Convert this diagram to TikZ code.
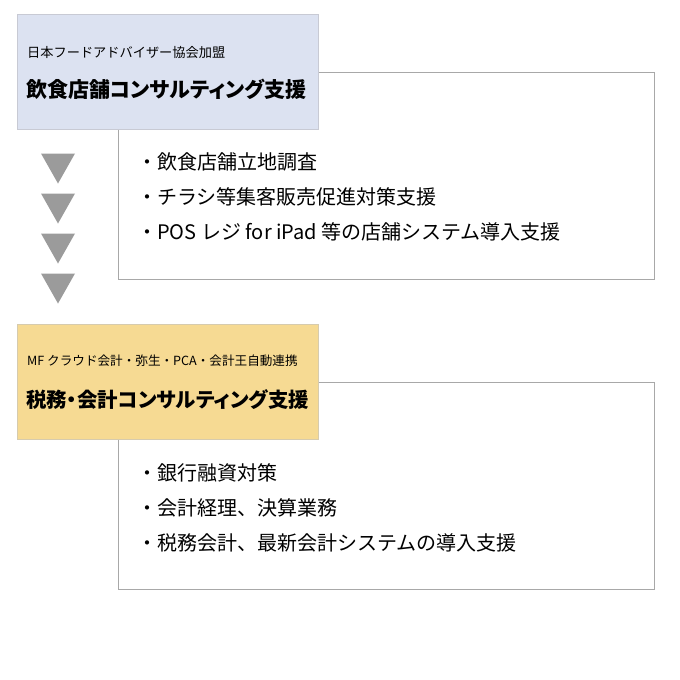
\documentclass[tikz,border=0pt]{standalone}
\usepackage{fontspec}
\setmainfont{Noto Sans CJK JP}
\definecolor{headblue}{HTML}{DCE2F1}
\definecolor{headblueline}{HTML}{C8CAD4}
\definecolor{headyellow}{HTML}{F6DA93}
\definecolor{headyellowline}{HTML}{D6CBAE}
\definecolor{listline}{HTML}{A8A8A8}
\definecolor{arrowgray}{HTML}{9B9B9B}
\tikzset{
  headbox/.style={draw=#1line, fill=#1, line width=1pt, inner sep=0pt, anchor=north west,
    minimum width=301pt, minimum height=115pt},
  listbox/.style={draw=listline, fill=white, line width=1pt, inner sep=0pt, anchor=north west,
    minimum width=536pt, minimum height=207pt},
  subtext/.style={anchor=west, inner sep=0pt, font=\fontsize{13.2}{16}\selectfont},
  titletext/.style={anchor=west, inner sep=0pt,
    font=\fontsize{#1}{24}\selectfont\bfseries\addfontfeatures{RawFeature=+palt}},
  itemtext/.style={anchor=west, inner sep=0pt, font=\fontsize{20}{24}\selectfont},
  downtri/.style={fill=arrowgray}
}
\begin{document}
\begin{tikzpicture}[x=1pt,y=-1pt]
\useasboundingbox (0,0) rectangle (680,680);
% block 1
\node[listbox] (list1) at (118,72) {};
\node[headbox=headblue] (head1) at (17,14) {};
\node[subtext] (sub1) at (27,52) {日本フードアドバイザー協会加盟};
\node[titletext=21] (title1) at (26,89) {飲食店舗コンサルティング支援};
\node[itemtext] (item11) at (137,162) {・飲食店舗立地調査};
\node[itemtext] (item12) at (137,197) {・チラシ等集客販売促進対策支援};
\node[itemtext] (item13) at (137,232) {・POS レジ for iPad 等の店舗システム導入支援};
% arrows
\foreach \t in {153.5,193.5,233.5,273.5}{
  \fill[downtri] (41,\t) -- (75,\t) -- (58,\t+30) -- cycle;
}
% block 2
\node[listbox] (list2) at (118,382) {};
\node[headbox=headyellow] (head2) at (17,324) {};
\node[subtext, font=\fontsize{12.6}{16}\selectfont] (sub2) at (27,361) {MF クラウド会計・弥生・PCA・会計王自動連携};
\node[titletext=20.4] (title2) at (26,400) {税務・会計コンサルティング支援};
\node[itemtext] (item21) at (137,473) {・銀行融資対策};
\node[itemtext] (item22) at (137,508) {・会計経理、決算業務};
\node[itemtext] (item23) at (137,543) {・税務会計、最新会計システムの導入支援};
\end{tikzpicture}
\end{document}
